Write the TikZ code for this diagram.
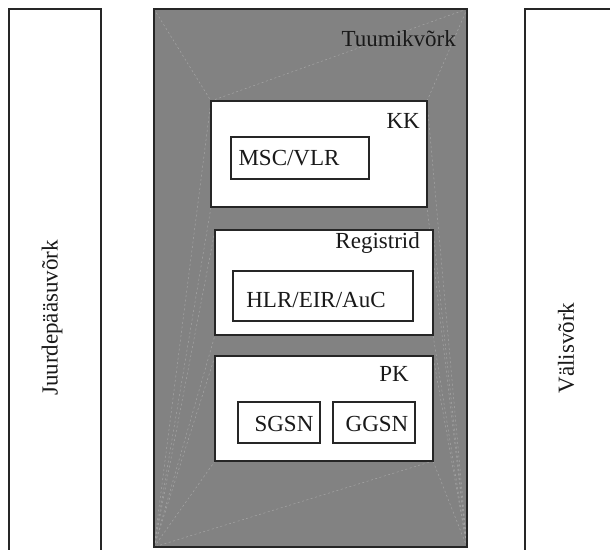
\documentclass[tikz,border=0pt]{standalone}
\usepackage{fontspec}
\setmainfont{Liberation Serif}
\begin{document}
\begin{tikzpicture}[x=1pt,y=-1pt,
  frame/.style={draw=black!85,line width=1.2pt,inner sep=0pt,outer sep=0pt},
  whitebox/.style={frame,fill=white},
  lbl/.style={font=\fontsize{23}{26}\selectfont,inner sep=0pt,text=black!90},
  ghost/.style={draw=black!35,line width=0.5pt,dash pattern=on 2pt off 2.5pt}]
\useasboundingbox (0,0) rectangle (610,549);
% side boxes
\node[frame,fill=white,minimum width=92pt,minimum height=560pt,anchor=north west] (acc) at (9,9) {};
\node[frame,fill=white,minimum width=100pt,minimum height=560pt,anchor=north west] (ext) at (525,9) {};
\node[lbl,rotate=90] (acct) at (52,318) {Juurdepääsuvõrk};
\node[lbl,rotate=90] (extt) at (566,348) {Välisvõrk};
% core network
\node[frame,fill=gray!98,minimum width=313pt,minimum height=538pt,anchor=north west] (core) at (154,9) {};
% inner boxes
\node[whitebox,minimum width=216pt,minimum height=106pt,anchor=north west] (kk) at (211,101) {};
\node[whitebox,minimum width=218pt,minimum height=105pt,anchor=north west] (reg) at (215,230) {};
\node[whitebox,minimum width=218pt,minimum height=105pt,anchor=north west] (pk) at (215,356) {};
% ghost triangulation lines
\draw[ghost] (core.north west) -- (kk.north west) -- (core.north east);
\draw[ghost] (kk.north east) -- (core.north east);
\foreach \c in {kk.north west,kk.south west,reg.north west,reg.south west,pk.north west,pk.south west}
  \draw[ghost] (core.south west) -- (\c);
\foreach \c in {kk.north east,kk.south east,reg.north east,reg.south east,pk.north east,pk.south east}
  \draw[ghost] (core.south east) -- (\c);
\draw[ghost] (pk.south east) -- (core.south west);
% redraw boxes over ghost lines
\node[whitebox,minimum width=216pt,minimum height=106pt,anchor=north west] (kk2) at (211,101) {};
\node[whitebox,minimum width=218pt,minimum height=105pt,anchor=north west] (reg2) at (215,230) {};
\node[whitebox,minimum width=218pt,minimum height=105pt,anchor=north west] (pk2) at (215,356) {};
\draw[frame] (core.north west) rectangle (core.south east);
% inner elements
\node[frame,minimum width=138pt,minimum height=42pt,anchor=north west] (msc) at (231,137) {};
\node[frame,minimum width=180pt,minimum height=50pt,anchor=north west] (hlr) at (233,271) {};
\node[frame,minimum width=82pt,minimum height=41pt,anchor=north west] (sgsn) at (238,402) {};
\node[frame,minimum width=82pt,minimum height=41pt,anchor=north west] (ggsn) at (333,402) {};
% labels
\node[lbl,anchor=east] (coret) at (456,39) {Tuumikvõrk};
\node[lbl,anchor=east] (kkt) at (420,121) {KK};
\node[lbl,anchor=east] (regt) at (420,243) {Registrid};
\node[lbl,anchor=east] (pkt) at (409,374) {PK};
\node[lbl] (msct) at (289,158) {MSC/VLR};
\node[lbl] (hlrt) at (316,300) {HLR/EIR/AuC};
\node[lbl] (sgsnt) at (284,424) {SGSN};
\node[lbl] (ggsnt) at (377,424) {GGSN};
\end{tikzpicture}
\end{document}
